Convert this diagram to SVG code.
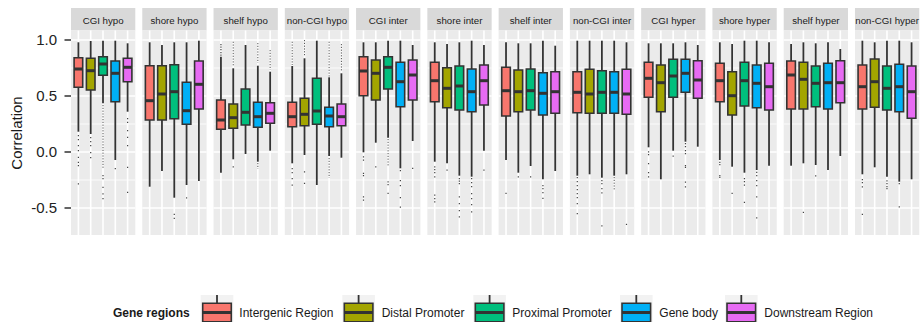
<svg xmlns="http://www.w3.org/2000/svg" xmlns:xlink="http://www.w3.org/1999/xlink" width="920" height="322" viewBox="0 0 920 322">
<style>
text{font-family:"Liberation Sans",Arial,sans-serif}
.strip{fill:#D9D9D9}
.st{font-size:9.7px;fill:#1A1A1A;text-anchor:middle}
.w{stroke:#333;stroke-width:1.8;fill:none}
.b{stroke:#333;stroke-width:1.6}
.m{stroke:#333;stroke-width:3;fill:none}
.o{stroke:#444;stroke-width:1.2;fill:none}
.od{stroke:#555;stroke-width:1;stroke-dasharray:1.2 1.6;fill:none}
.c1{fill:#F8766D}.c2{fill:#A3A500}.c3{fill:#00BF7D}.c4{fill:#00B0F6}.c5{fill:#E76BF3}
.gmaj{stroke:#fff;stroke-width:1.6}
.gmin{stroke:#fff;stroke-width:0.8}
.tick{stroke:#333;stroke-width:1.6}
.yl{font-size:15px;fill:#222;text-anchor:end}
.lt{font-size:12px;fill:#1A1A1A}
</style>
<defs>
<g id="bg">
<rect x="0" y="30.5" width="64.3" height="204.5" fill="#EBEBEB"/>
<path class="gmin" d="M0 68H64.3M0 124H64.3M0 180H64.3"/>
<path class="gmaj" d="M0 40H64.3M0 96H64.3M0 152H64.3M0 208H64.3M7.4 30.5V235M19.7 30.5V235M32 30.5V235M44.3 30.5V235M56.6 30.5V235"/>
</g>
</defs>
<rect width="920" height="322" fill="#fff"/>

<g id="axis">
<path class="tick" d="M64.5 40H71M64.5 96H71M64.5 152H71M64.5 208H71"/>
<text class="yl" x="57" y="45.4">1.0</text>
<text class="yl" x="57" y="101.4">0.5</text>
<text class="yl" x="57" y="157.4">0.0</text>
<text class="yl" x="57" y="213.4">-0.5</text>
<text transform="translate(22 133) rotate(-90)" text-anchor="middle" font-size="15" fill="#1A1A1A">Correlation</text>
</g>

<g id="p1" transform="translate(71 0)">
<rect class="strip" x="0" y="8" width="64.3" height="22.5"/><text class="st" x="32.15" y="23.5">CGI hypo</text>
<use href="#bg"/>
<g class="boxes">
<path class="w" d="M7.4 42.3V131.7"/><path class="b c1" d="M3.1 57.7H11.7V87.3H3.1Z"/><path class="m" d="M3.1 69H11.7"/>
<path class="o" d="M7.4 135v1.2M7.4 139v1.2M7.4 145v1.2M7.4 150v1.2M7.4 156.7v1.2M7.4 161.7v1.2M7.4 165v1.2M7.4 183.3v1.2"/>
<path class="w" d="M19.7 41V134"/><path class="b c2" d="M15.4 58.3H24V90H15.4Z"/><path class="m" d="M15.4 70.7H24"/>
<path class="o" d="M19.7 137v1.2M19.7 141v1.2M19.7 145v1.2M19.7 152v1.2M19.7 157v1.2"/>
<path class="w" d="M32 40.7V103.3"/><path class="b c3" d="M27.7 56.7H36.3V75.3H27.7Z"/><path class="m" d="M27.7 64H36.3"/>
<path class="od" d="M32 105V168"/><path class="o" d="M32 175v1.2M32 178v1.2M32 186.7v1.2M32 193.3v1.2M32 198v1.2"/>
<path class="w" d="M44.3 40.7V160"/><path class="b c4" d="M40 61H48.6V101.7H40Z"/><path class="m" d="M40 73.3H48.6"/>
<path class="o" d="M44.3 168v1.2"/>
<path class="w" d="M56.6 43.3V111.7"/><path class="b c5" d="M52.3 58.3H60.9V81.7H52.3Z"/><path class="m" d="M52.3 67.3H60.9"/>
<path class="o" d="M56.6 118v1.2M56.6 121.7v1.2M56.6 130v1.2M56.6 136.7v1.2M56.6 145v1.2M56.6 166.7v1.2M56.6 191.7v1.2"/>
</g>
</g>

<g id="p2" transform="translate(142.27 0)">
<rect class="strip" x="0" y="8" width="64.3" height="22.5"/><text class="st" x="32.15" y="23.5">shore hypo</text>
<use href="#bg"/>
<g class="boxes">
<path class="w" d="M7.4 42.3V186.7"/><path class="b c1" d="M3.1 65.7H11.7V120H3.1Z"/><path class="m" d="M3.1 100.7H11.7"/>
<path class="w" d="M19.7 45V171"/><path class="b c2" d="M15.4 65.7H24V120H15.4Z"/><path class="m" d="M15.4 94H24"/>
<path class="w" d="M32 42.3V197.7"/><path class="b c3" d="M27.7 64.7H36.3V118.7H27.7Z"/><path class="m" d="M27.7 91.7H36.3"/>
<path class="o" d="M32 213.8v1.2M32 217.8v1.2"/>
<path class="w" d="M44.3 42.3V185"/><path class="b c4" d="M40 82.3H48.6V124.3H40Z"/><path class="m" d="M40 110.7H48.6"/>
<path class="o" d="M44.3 197.3v1.2"/>
<path class="w" d="M56.6 40.7V181"/><path class="b c5" d="M52.3 61H60.9V109H52.3Z"/><path class="m" d="M52.3 84.3H60.9"/>
</g>
</g>

<g id="p3" transform="translate(213.54 0)">
<rect class="strip" x="0" y="8" width="64.3" height="22.5"/><text class="st" x="32.15" y="23.5">shelf hypo</text>
<use href="#bg"/>
<g class="boxes">
<path class="o" d="M7.4 44v1.2M7.4 46.5v1.2M7.4 49v1.2M7.4 52v1.2M7.4 54.5v1.2"/>
<path class="w" d="M7.4 56.7V172.7"/><path class="b c1" d="M3.1 100H11.7V129.3H3.1Z"/><path class="m" d="M3.1 120H11.7"/>
<path class="od" d="M19.7 41.7V66.7"/><path class="o" d="M19.7 166.2v1.2"/>
<path class="w" d="M19.7 68.3V159.3"/><path class="b c2" d="M15.4 104H24V128.3H15.4Z"/><path class="m" d="M15.4 117.7H24"/>
<path class="w" d="M32 45V154"/><path class="b c3" d="M27.7 89H36.3V125H27.7Z"/><path class="m" d="M27.7 112.3H36.3"/>
<path class="od" d="M44.3 43V63"/><path class="od" d="M44.3 163V169"/>
<path class="w" d="M44.3 65.7V161.7"/><path class="b c4" d="M40 102.3H48.6V127.3H40Z"/><path class="m" d="M40 116.7H48.6"/>
<path class="od" d="M56.6 50V70"/>
<path class="w" d="M56.6 71.7V150.7"/><path class="b c5" d="M52.3 102.7H60.9V123.3H52.3Z"/><path class="m" d="M52.3 113.3H60.9"/>
</g>
</g>

<g id="p4" transform="translate(284.81 0)">
<rect class="strip" x="0" y="8" width="64.3" height="22.5"/><text class="st" x="32.15" y="23.5">non-CGI hypo</text>
<use href="#bg"/>
<g class="boxes">
<path class="od" d="M7.4 41.7V65"/><path class="o" d="M7.4 168v1.2M7.4 172v1.2M7.4 178v1.2M7.4 184.5v1.2"/>
<path class="w" d="M7.4 66V163.3"/><path class="b c1" d="M3.1 102.3H11.7V126.7H3.1Z"/><path class="m" d="M3.1 116.7H11.7"/>
<path class="od" d="M19.7 40V56.7"/><path class="o" d="M19.7 171.2v1.2M19.7 182.8v1.2"/>
<path class="w" d="M19.7 58.3V155"/><path class="b c2" d="M15.4 98.3H24V125.7H15.4Z"/><path class="m" d="M15.4 114.3H24"/>
<path class="w" d="M32 40.7V185"/><path class="b c3" d="M27.7 78.3H36.3V124.3H27.7Z"/><path class="m" d="M27.7 111H36.3"/>
<path class="od" d="M44.3 41.7V76.7"/><path class="od" d="M44.3 158V178"/>
<path class="w" d="M44.3 77.3V156"/><path class="b c4" d="M40 107.3H48.6V126.7H40Z"/><path class="m" d="M40 116H48.6"/>
<path class="od" d="M56.6 44V71.7"/>
<path class="w" d="M56.6 73.3V157.7"/><path class="b c5" d="M52.3 104H60.9V125.7H52.3Z"/><path class="m" d="M52.3 116.7H60.9"/>
</g>
</g>

<g id="p5" transform="translate(356.08 0)">
<rect class="strip" x="0" y="8" width="64.3" height="22.5"/><text class="st" x="32.15" y="23.5">CGI inter</text>
<use href="#bg"/>
<g class="boxes">
<path class="w" d="M7.4 42.3V152.3"/><path class="b c1" d="M3.1 56.7H11.7V95.7H3.1Z"/><path class="m" d="M3.1 71H11.7"/>
<path class="o" d="M7.4 156.2v1.2M7.4 159.5v1.2M7.4 172.8v1.2M7.4 175v1.2M7.4 196.2v1.2M7.4 199.5v1.2"/>
<path class="w" d="M19.7 42.3V142.7"/><path class="b c2" d="M15.4 60H24V100H15.4Z"/><path class="m" d="M15.4 73.3H24"/>
<path class="o" d="M19.7 166.2v1.2"/>
<path class="w" d="M32 40.7V137.7"/><path class="b c3" d="M27.7 56.7H36.3V89H27.7Z"/><path class="m" d="M27.7 67.3H36.3"/>
<path class="od" d="M32 139V167"/><path class="o" d="M32 181.2v1.2M32 184v1.2M32 192.8v1.2"/>
<path class="w" d="M44.3 40.7V168.3"/><path class="b c4" d="M40 62.3H48.6V106.7H40Z"/><path class="m" d="M40 81.7H48.6"/>
<path class="o" d="M44.3 170v1.2M44.3 180v1.2M44.3 185v1.2M44.3 197v1.2M44.3 206.5v1.2"/>
<path class="w" d="M56.6 45V141"/><path class="b c5" d="M52.3 60H60.9V100H52.3Z"/><path class="m" d="M52.3 75H60.9"/>
<path class="o" d="M56.6 167.8v1.2"/>
</g>
</g>

<g id="p6" transform="translate(427.35 0)">
<rect class="strip" x="0" y="8" width="64.3" height="22.5"/><text class="st" x="32.15" y="23.5">shore inter</text>
<use href="#bg"/>
<g class="boxes">
<path class="w" d="M7.4 42.3V161.7"/><path class="b c1" d="M3.1 62.3H11.7V101.7H3.1Z"/><path class="m" d="M3.1 80.7H11.7"/>
<path class="o" d="M7.4 166.2v1.2M7.4 169v1.2M7.4 172v1.2M7.4 176.2v1.2M7.4 194.5v1.2M7.4 198v1.2M7.4 201.2v1.2"/>
<path class="w" d="M19.7 44V163.3"/><path class="b c2" d="M15.4 67.7H24V107.7H15.4Z"/><path class="m" d="M15.4 88.3H24"/>
<path class="o" d="M19.7 169.5v1.2"/>
<path class="w" d="M32 42.3V175.7"/><path class="b c3" d="M27.7 66H36.3V110H27.7Z"/><path class="m" d="M27.7 86H36.3"/>
<path class="o" d="M32 178v1.2M32 180.5v1.2M32 183v1.2M32 196.2v1.2M32 203v1.2M32 210v1.2M32 216.2v1.2"/>
<path class="w" d="M44.3 40.7V176.7"/><path class="b c4" d="M40 69H48.6V111.7H40Z"/><path class="m" d="M40 91.7H48.6"/>
<path class="o" d="M44.3 178v1.2M44.3 182v1.2M44.3 186v1.2M44.3 193v1.2M44.3 198v1.2M44.3 204v1.2M44.3 211.2v1.2"/>
<path class="w" d="M56.6 45V150.7"/><path class="b c5" d="M52.3 65H60.9V105H52.3Z"/><path class="m" d="M52.3 80.7H60.9"/>
<path class="o" d="M56.6 169.5v1.2"/>
</g>
</g>

<g id="p7" transform="translate(498.62 0)">
<rect class="strip" x="0" y="8" width="64.3" height="22.5"/><text class="st" x="32.15" y="23.5">shelf inter</text>
<use href="#bg"/>
<g class="boxes">
<path class="w" d="M7.4 42.3V160"/><path class="b c1" d="M3.1 67.3H11.7V116H3.1Z"/><path class="m" d="M3.1 90.7H11.7"/>
<path class="o" d="M7.4 192.8v1.2"/>
<path class="w" d="M19.7 43.3V172.7"/><path class="b c2" d="M15.4 70H24V111.7H15.4Z"/><path class="m" d="M15.4 91.7H24"/>
<path class="o" d="M19.7 176.2v1.2"/>
<path class="w" d="M32 43.3V166"/><path class="b c3" d="M27.7 69H36.3V110H27.7Z"/><path class="m" d="M27.7 90.7H36.3"/>
<path class="o" d="M32 176.2v1.2"/>
<path class="w" d="M44.3 40.7V179.3"/><path class="b c4" d="M40 72.7H48.6V115H40Z"/><path class="m" d="M40 93.3H48.6"/>
<path class="o" d="M44.3 185v1.2M44.3 188v1.2M44.3 192v1.2M44.3 197.8v1.2"/>
<path class="w" d="M56.6 45.7V171"/><path class="b c5" d="M52.3 71.7H60.9V113.3H52.3Z"/><path class="m" d="M52.3 91.7H60.9"/>
</g>
</g>

<g id="p8" transform="translate(569.89 0)">
<rect class="strip" x="0" y="8" width="64.3" height="22.5"/><text class="st" x="32.15" y="23.5">non-CGI inter</text>
<use href="#bg"/>
<g class="boxes">
<path class="w" d="M7.4 40.7V175.7"/><path class="b c1" d="M3.1 71.7H11.7V112.7H3.1Z"/><path class="m" d="M3.1 92.3H11.7"/>
<path class="o" d="M7.4 177v1.2M7.4 181v1.2M7.4 185v1.2M7.4 189v1.2M7.4 193v1.2M7.4 197v1.2M7.4 203v1.2M7.4 213v1.2"/>
<path class="w" d="M19.7 40.7V174.3"/><path class="b c2" d="M15.4 69.3H24V113.3H15.4Z"/><path class="m" d="M15.4 94H24"/>
<path class="w" d="M32 40.7V177.7"/><path class="b c3" d="M27.7 70.7H36.3V113.3H27.7Z"/><path class="m" d="M27.7 92.3H36.3"/>
<path class="o" d="M32 180v1.2M32 183v1.2M32 188v1.2M32 192.2v1.2M32 225.2v1.2"/>
<path class="w" d="M44.3 40.7V175.7"/><path class="b c4" d="M40 71.7H48.6V113.3H40Z"/><path class="m" d="M40 92.3H48.6"/>
<path class="od" d="M44.3 177V191"/>
<path class="w" d="M56.6 42.3V174.3"/><path class="b c5" d="M52.3 69.3H60.9V114.3H52.3Z"/><path class="m" d="M52.3 94H60.9"/>
<path class="o" d="M56.6 223.8v1.2"/>
</g>
</g>

<g id="p9" transform="translate(641.16 0)">
<rect class="strip" x="0" y="8" width="64.3" height="22.5"/><text class="st" x="32.15" y="23.5">CGI hyper</text>
<use href="#bg"/>
<g class="boxes">
<path class="w" d="M7.4 43.3V147.3"/><path class="b c1" d="M3.1 62.3H11.7V97.3H3.1Z"/><path class="m" d="M3.1 78.3H11.7"/>
<path class="o" d="M7.4 151.2v1.2M7.4 154v1.2M7.4 163v1.2M7.4 172v1.2M7.4 176.2v1.2"/>
<path class="w" d="M19.7 43.3V179.3"/><path class="b c2" d="M15.4 65H24V111.7H15.4Z"/><path class="m" d="M15.4 82.7H24"/>
<path class="w" d="M32 43.3V150.7"/><path class="b c3" d="M27.7 59.3H36.3V97.3H27.7Z"/><path class="m" d="M27.7 76H36.3"/>
<path class="o" d="M32 155.5v1.2"/>
<path class="w" d="M44.3 42.3V141.7"/><path class="b c4" d="M40 59.3H48.6V92.3H40Z"/><path class="m" d="M40 73.3H48.6"/>
<path class="o" d="M44.3 143v1.2M44.3 146v1.2M44.3 150v1.2M44.3 153v1.2M44.3 165v1.2M44.3 166.8v1.2M44.3 181.5v1.2M44.3 186.2v1.2"/>
<path class="w" d="M56.6 45V146.7"/><path class="b c5" d="M52.3 60.7H60.9V98.3H52.3Z"/><path class="m" d="M52.3 80H60.9"/>
</g>
</g>

<g id="p10" transform="translate(712.43 0)">
<rect class="strip" x="0" y="8" width="64.3" height="22.5"/><text class="st" x="32.15" y="23.5">shore hyper</text>
<use href="#bg"/>
<g class="boxes">
<path class="w" d="M7.4 42.3V160"/><path class="b c1" d="M3.1 63.3H11.7V101.7H3.1Z"/><path class="m" d="M3.1 80.7H11.7"/>
<path class="o" d="M7.4 161.7v1.2M7.4 164v1.2M7.4 175v1.2M7.4 176.7v1.2"/>
<path class="w" d="M19.7 44V166.7"/><path class="b c2" d="M15.4 71.7H24V115H15.4Z"/><path class="m" d="M15.4 95.7H24"/>
<path class="o" d="M19.7 192.8v1.2"/>
<path class="w" d="M32 40.7V172.7"/><path class="b c3" d="M27.7 62.3H36.3V106H27.7Z"/><path class="m" d="M27.7 80.7H36.3"/>
<path class="o" d="M32 178v1.2M32 181v1.2M32 184.5v1.2M32 201.8v1.2"/>
<path class="w" d="M44.3 40.7V170"/><path class="b c4" d="M40 65H48.6V107.7H40Z"/><path class="m" d="M40 83.3H48.6"/>
<path class="o" d="M44.3 171.7v1.2M44.3 175v1.2M44.3 180v1.2M44.3 185v1.2M44.3 196.2v1.2M44.3 217.2v1.2"/>
<path class="w" d="M56.6 42.3V165.7"/><path class="b c5" d="M52.3 63.3H60.9V110H52.3Z"/><path class="m" d="M52.3 86.7H60.9"/>
</g>
</g>

<g id="p11" transform="translate(783.7 0)">
<rect class="strip" x="0" y="8" width="64.3" height="22.5"/><text class="st" x="32.15" y="23.5">shelf hyper</text>
<use href="#bg"/>
<g class="boxes">
<path class="w" d="M7.4 44V165.7"/><path class="b c1" d="M3.1 61H11.7V109H3.1Z"/><path class="m" d="M3.1 75H11.7"/>
<path class="w" d="M19.7 42.3V163.3"/><path class="b c2" d="M15.4 62.3H24V109H15.4Z"/><path class="m" d="M15.4 79.3H24"/>
<path class="o" d="M19.7 211.8v1.2"/>
<path class="w" d="M32 43.3V165"/><path class="b c3" d="M27.7 66H36.3V106.7H27.7Z"/><path class="m" d="M27.7 83.3H36.3"/>
<path class="o" d="M32 175.2v1.2"/>
<path class="w" d="M44.3 42.3V170"/><path class="b c4" d="M40 63.3H48.6V109H40Z"/><path class="m" d="M40 82.7H48.6"/>
<path class="w" d="M56.6 49V156"/><path class="b c5" d="M52.3 60.7H60.9V102.7H52.3Z"/><path class="m" d="M52.3 82.7H60.9"/>
</g>
</g>

<g id="p12" transform="translate(854.97 0)">
<rect class="strip" x="0" y="8" width="64.3" height="22.5"/><text class="st" x="32.15" y="23.5">non-CGI hyper</text>
<use href="#bg"/>
<g class="boxes">
<path class="w" d="M7.4 40.7V174.3"/><path class="b c1" d="M3.1 65H11.7V109H3.1Z"/><path class="m" d="M3.1 86.7H11.7"/>
<path class="o" d="M7.4 179v1.2M7.4 182v1.2M7.4 186.2v1.2M7.4 213.8v1.2"/>
<path class="w" d="M19.7 42.3V167.3"/><path class="b c2" d="M15.4 59H24V107.3H15.4Z"/><path class="m" d="M15.4 81.7H24"/>
<path class="w" d="M32 40.7V176.7"/><path class="b c3" d="M27.7 66H36.3V110H27.7Z"/><path class="m" d="M27.7 88.3H36.3"/>
<path class="o" d="M32 180.2v1.2M32 183v1.2M32 186v1.2M32 188v1.2"/>
<path class="w" d="M44.3 40.7V181.7"/><path class="b c4" d="M40 64.3H48.6V111.7H40Z"/><path class="m" d="M40 86.7H48.6"/>
<path class="o" d="M44.3 183v1.2M44.3 206.2v1.2"/>
<path class="w" d="M56.6 42.3V179.3"/><path class="b c5" d="M52.3 66H60.9V118.3H52.3Z"/><path class="m" d="M52.3 91.7H60.9"/>
</g>
</g>

<g id="legend">
<text x="113" y="317" font-size="12" font-weight="bold" fill="#1A1A1A">Gene regions</text>
<g id="k1" transform="translate(200.7 0)">
<rect x="0" y="295" width="32.6" height="35" fill="#F2F2F2"/><path class="w" d="M16.3 295V330"/>
<path class="b c1" d="M2 303.3H30.6V321.7H2Z"/><path class="m" d="M2 312.5H30.6"/>
</g>
<text class="lt" x="239.3" y="317">Intergenic Region</text>
<g id="k2" transform="translate(342.3 0)">
<rect x="0" y="295" width="32.6" height="35" fill="#F2F2F2"/><path class="w" d="M16.3 295V330"/>
<path class="b c2" d="M2 303.3H30.6V321.7H2Z"/><path class="m" d="M2 312.5H30.6"/>
</g>
<text class="lt" x="381.7" y="317">Distal Promoter</text>
<g id="k3" transform="translate(473.3 0)">
<rect x="0" y="295" width="32.6" height="35" fill="#F2F2F2"/><path class="w" d="M16.3 295V330"/>
<path class="b c3" d="M2 303.3H30.6V321.7H2Z"/><path class="m" d="M2 312.5H30.6"/>
</g>
<text class="lt" x="512.3" y="317">Proximal Promoter</text>
<g id="k4" transform="translate(620 0)">
<rect x="0" y="295" width="32.6" height="35" fill="#F2F2F2"/><path class="w" d="M16.3 295V330"/>
<path class="b c4" d="M2 303.3H30.6V321.7H2Z"/><path class="m" d="M2 312.5H30.6"/>
</g>
<text class="lt" x="659.3" y="317">Gene body</text>
<g id="k5" transform="translate(725 0)">
<rect x="0" y="295" width="32.6" height="35" fill="#F2F2F2"/><path class="w" d="M16.3 295V330"/>
<path class="b c5" d="M2 303.3H30.6V321.7H2Z"/><path class="m" d="M2 312.5H30.6"/>
</g>
<text class="lt" x="764.3" y="317">Downstream Region</text>
</g>
</svg>
